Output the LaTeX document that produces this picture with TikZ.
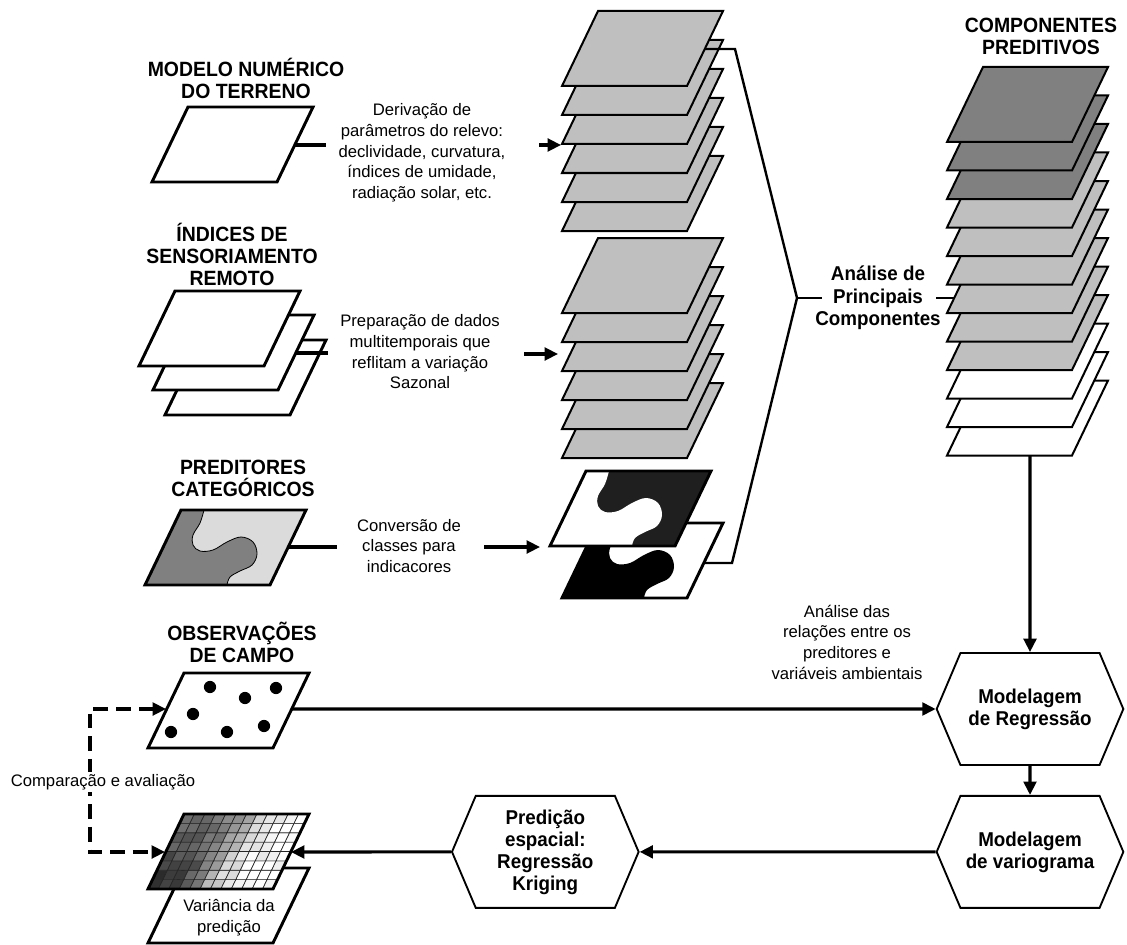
\documentclass[tikz,border=0pt]{standalone}
\usepackage{fontspec}
\setmainfont{Liberation Sans}
\newfontfamily\headfont[FakeStretch=0.94]{Liberation Sans}
\usetikzlibrary{arrows.meta, positioning, shapes.symbols}
\def\LayerColor{black!25}
\def\DarkColor{black!50}
\def\LightColor{black!14}
\def\InkColor{black!88}

% one map sheet: style, lower left corner
\newcommand\sheet[3]{\draw[#1] (#2,#3) -- ++(125,0) -- ++(36,-75) -- ++(-125,0) -- cycle;}
% sheet split in two classes: x, y, left class, right class
\newcommand\classmap[4]{%
  \begin{scope}[shift={(#1,#2)}]
    \fill[#4] (0,0) -- (125,0) -- (161,-75) -- (36,-75) -- cycle;
    \path[#3] (0,0) -- (36,-75) -- plot[smooth, tension=0.6] coordinates {(59,-75) (55,-62) (48,-50) (48,-40) (55,-34) (68,-35) (82,-43) (96,-48) (108,-43) (112,-31) (107,-20) (95,-14) (85,-8) (82,0)} -- cycle;
  \end{scope}}

\begin{document}
\begin{tikzpicture}[x=0.75pt, y=-0.75pt,
% node distance = 4mm and 8mm,
       T/.style = {font=\headfont\bfseries\fontsize{15.5}{16.5}\selectfont, align=center, inner sep=0pt},
       P/.style = {font=\headfont\bfseries\fontsize{15}{17}\selectfont, align=center, inner sep=0pt},
       L/.style = {font=\fontsize{12.5}{15.5}\selectfont, align=center, inner sep=0pt},
       H/.style = {shape=signal, signal to=west and east, signal pointer angle=134, draw, fill=white,
                   line width=1.4pt, minimum width=140pt, minimum height=84pt, inner sep=0pt,
                   align=center, font=\headfont\bfseries\fontsize{15}{16.5}\selectfont},
     map/.style = {draw, fill=white, line width=2.2pt},
   layer/.style = {draw, fill=\LayerColor, line width=1.5pt},
    link/.style = {line width=2.3pt},
   brace/.style = {line width=1.8pt},
  cmpline/.style = {line width=2.3pt, dash pattern=on 11pt off 6pt,
                   {Triangle[length=10pt, width=9.5pt]}-{Triangle[length=10pt, width=9.5pt]}},
    every edge/.style = {draw, -{Triangle[length=10pt, width=9.5pt]}, line width=2.3pt}
                        ]
\useasboundingbox (0,0) rectangle (1127,945);

% titles
\node[T] (tMNT) at (246,78)  {MODELO NUMÉRICO\\DO TERRENO};
\node[T] (tSR)  at (232,254) {ÍNDICES DE\\SENSORIAMENTO\\REMOTO};
\node[T] (tCAT) at (243,478) {PREDITORES\\CATEGÓRICOS};
\node[T] (tOBS) at (242,642) {OBSERVAÇÕES\\DE CAMPO};
\node[T] (tCP)  at (1041,36) {COMPONENTES\\PREDITIVOS};

% input maps
\sheet{map}{152}{182}
\sheet{map}{165}{415}
\sheet{map}{153}{390}
\sheet{map}{139}{366}
\classmap{145}{585}{{fill=\DarkColor, draw, line width=0.6pt}}{fill=\LightColor}
\sheet{map, fill=none}{145}{585}
\sheet{map}{148}{748}
\foreach \p in {(210,687),(276,688),(245,698),(193,714),(171,732),(227,732),(264,726)}
  \fill \p circle (4.6pt);

% prediction and its variance
\sheet{map}{148}{943}
\node[L] (var) at (229,918) {Variância da\\predição};
\pgfmathsetseed{11}
\begin{scope}[shift={(148,889)}]
\foreach \i in {0,...,11}
  \foreach \j in {0,...,7} {
    \pgfmathsetmacro\g{max(0,min(90,(80-3*\j)/(1+exp(0.9*(\i-4.5-0.25*\j)))+16*rnd-8))}
    \filldraw[fill=black!\g, draw=black!85, line width=0.5pt]
      ({\i*125/12+\j*4.5},{-\j*75/8}) -- ++(125/12,0) -- ++(4.5,-75/8) -- ++(-125/12,0) -- cycle;
  }
\end{scope}
\sheet{map, fill=none}{148}{889}

% derived layers
\foreach \k in {5,...,0} \sheet{layer}{562}{86+29*\k};
\foreach \k in {5,...,0} \sheet{layer}{562}{313+29*\k};
\classmap{562}{598}{fill=black}{fill=white}
\sheet{map, fill=none}{562}{598}
\classmap{550}{546}{fill=white}{fill=\InkColor}
\sheet{map, fill=none}{550}{546}
\foreach \k/\c in {11/white,10/white,9/white,8/\LayerColor,7/\LayerColor,6/\LayerColor,
                   5/\LayerColor,4/\LayerColor,3/\LayerColor,2/\DarkColor,1/\DarkColor,0/\DarkColor}
  \sheet{layer, fill=\c}{947}{142+28.5*\k};

% principal components
\coordinate (s1E)    at (705,49);
\coordinate (s1tab)  at (735,49);
\coordinate (brace)  at (797,298);
\coordinate (indtab) at (732,563);
\coordinate (indE)   at (704,563);
\coordinate (pcaIn)  at (822,298);
\coordinate (pcaOut) at (936,298);
\coordinate (cpW)    at (954,298);
\coordinate (cpS)    at (1030,456);
\draw[brace] (s1E) -- (s1tab) -- (brace) -- (indtab) -- (indE);
\node[P] (pca) at (878,298) {Análise de\\Principais\\Componentes};
\draw[brace] (brace) -- (pcaIn)
             (pcaOut) -- (cpW);

% processing
\node[H] (reg) at (1030,709) {Modelagem\\de Regressão};
\node[H, below =21.75pt of reg] (vario) {Modelagem\\de variograma};
\node[H, left =222pt of vario] (pred) {Predição\\espacial:\\Regressão\\Kriging};

% texts on the links
\node[L] (dMNT) at (422,153) {Derivação de\\parâmetros do relevo:\\declividade, curvatura,\\índices de umidade,\\radiação solar, etc.};
\node[L] (dSR)  at (420,352) {Preparação de dados\\multitemporais que\\reflitam a variação\\Sazonal};
\node[L] (dCAT) at (409,546) {Conversão de\\classes para\\indicacores};
\node[L] (dREG) at (847,642) {Análise das\\relações entre os\\preditores e\\variáveis ambientais};

\coordinate (mntE)    at (295,145);
\coordinate (mntStub) at (326,145);
\coordinate (s1in)    at (539,145);
\coordinate (s1W)     at (561,145);
\coordinate (srE)     at (296,353);
\coordinate (srStub)  at (328,353);
\coordinate (s2in)    at (524,354);
\coordinate (s2W)     at (558,354);
\coordinate (catE)    at (288,547);
\coordinate (catStub) at (337,547);
\coordinate (indin)   at (484,547);
\coordinate (indW)    at (540,547);
\coordinate (obsE)    at (292,709);
\coordinate (gridE)   at (291,852);
\coordinate (obsW)    at (166,709);
\coordinate (gridW)   at (165,852);
\coordinate (cmp)     at (90,780);

\draw[link] (mntE) -- (mntStub)
            (srE) -- (srStub)
            (catE) -- (catStub);
\draw   (s1in)  edge (s1W)
        (s2in)  edge (s2W)
        (indin) edge (indW)
        (cpS)   edge (reg)
        (obsE)  edge (reg)
        (reg)   edge (vario)
        (vario) edge (pred)
        (pred)  edge (gridE);

% validation
\draw[cmpline] (obsW) -| (cmp) |- (gridW);
\node[L, fill=white, inner sep=2pt] (cmpt) at (103,782) {Comparação e avaliação};
\end{tikzpicture}
\end{document}
